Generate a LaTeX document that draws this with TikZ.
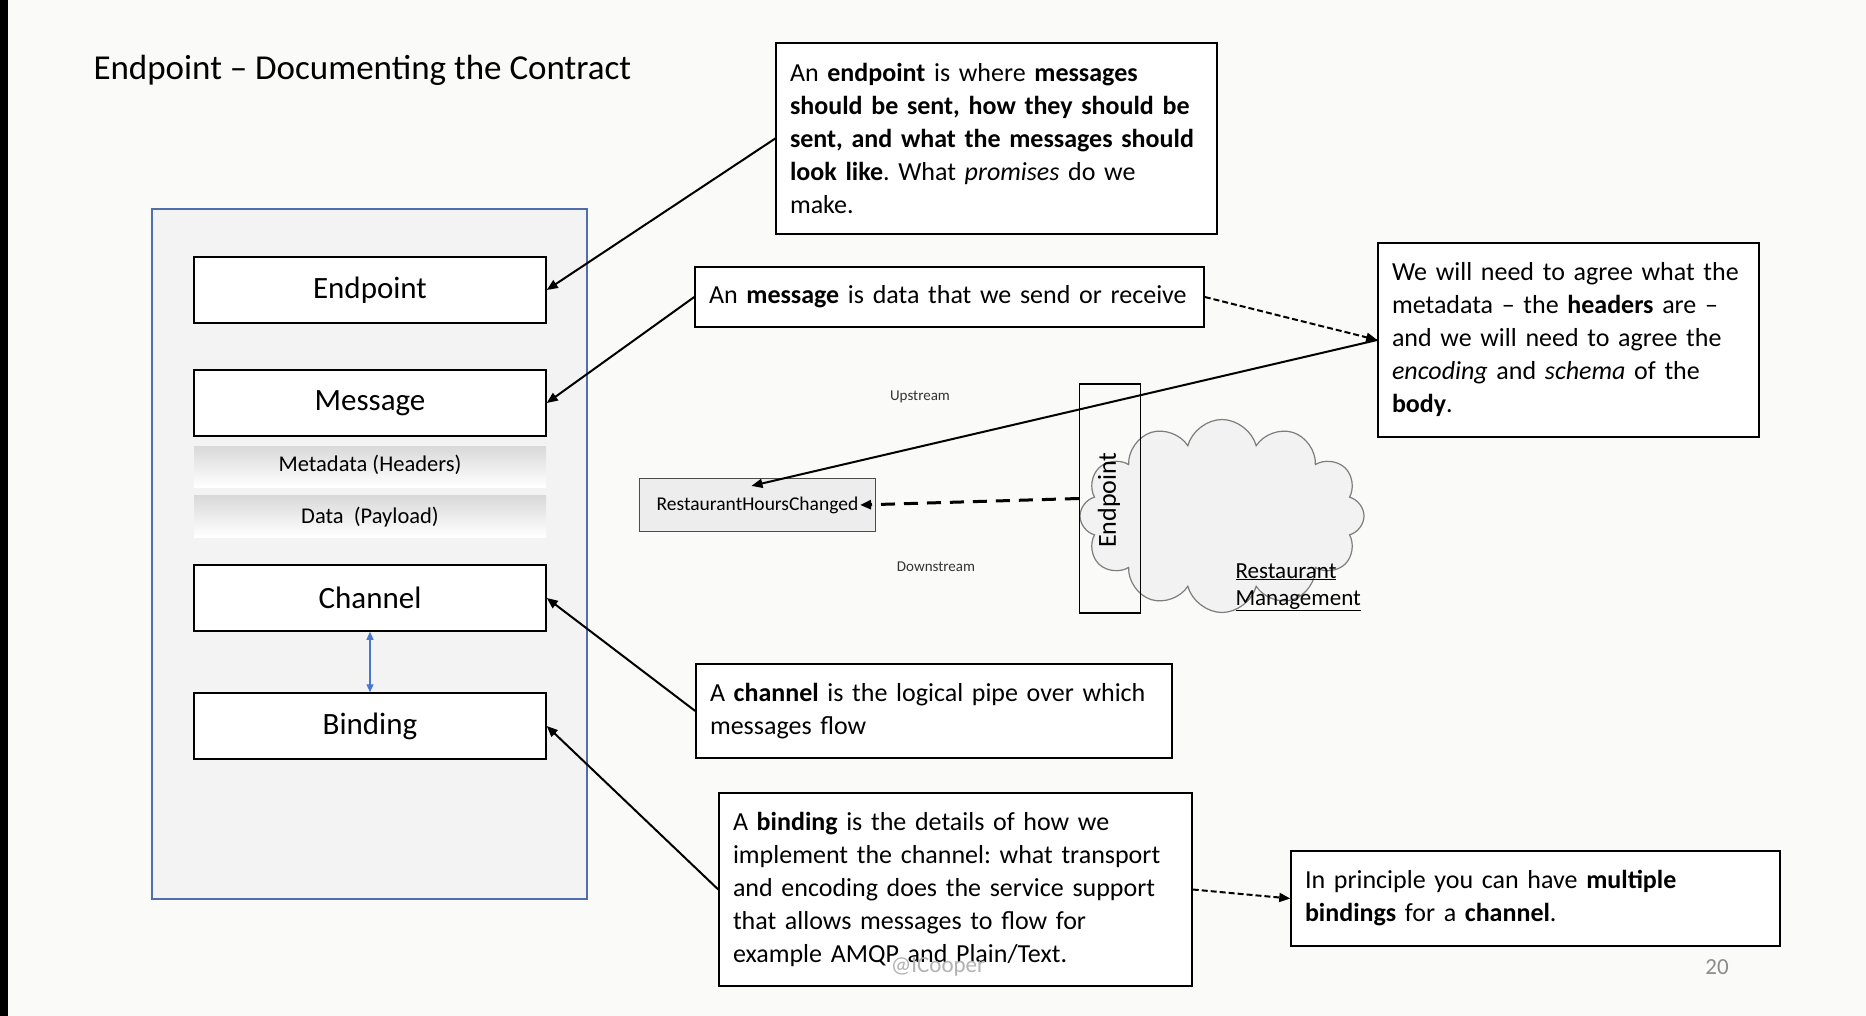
\documentclass[tikz,border=0pt]{standalone}
\usepackage{fontspec}
\setmainfont{Carlito}
\usetikzlibrary{arrows.meta,shapes.symbols}
\definecolor{slidebg}{RGB}{250,250,248}
\definecolor{panelfill}{RGB}{243,243,243}
\definecolor{paneledge}{RGB}{80,110,170}
\definecolor{linkblue}{RGB}{70,120,210}
\definecolor{cloudfill}{RGB}{242,242,242}
\definecolor{cloudedge}{RGB}{125,125,125}
\frenchspacing
\hyphenpenalty=10000

\begin{document}
\begin{tikzpicture}[x=1pt,y=-1pt,
                note/.style={draw,line width=1.5pt,fill=white,inner xsep=14pt,inner ysep=0pt,align=left,font=\fontsize{26}{33}\selectfont},
                part/.style={draw,line width=1.5pt,fill=white,minimum width=352pt,minimum height=66pt,font=\fontsize{31}{36}\selectfont},
                band/.style={font=\fontsize{22.5}{26}\selectfont},
                pointer/.style={-{Triangle[length=11pt,width=9pt]},line width=2pt},
                hint/.style={pointer,dash pattern=on 6pt off 3pt}]
                \path[use as bounding box,fill=slidebg] (0,0) rectangle (1866,1016);
                \fill[black] (0,0) rectangle (8,1016);
                \node[anchor=base west,font=\fontsize{35}{42}\selectfont] (title) at (90,80) {Endpoint -- Documenting the Contract};

                \draw[paneledge,line width=1.2pt,fill=panelfill] (152,209) rectangle (587,899);
                \node[part] (endpoint) at (370,290) {Endpoint};
                \node[part] (message) at (370,403) {Message};
                \shade[top color=black!15,bottom color=white] (194,446) rectangle (546,487);
                \shade[top color=black!15,bottom color=white] (194,495) rectangle (546,537);
                \node[band] (metadata) at (370,465) {Metadata (Headers)};
                \node[band] (payload) at (370,517) {Data\ \ (Payload)};
                \node[part] (channel) at (370,598) {Channel};
                \node[part] (binding) at (370,726) {Binding};
                \draw[linkblue,line width=1.2pt,{Triangle[length=8pt,width=7pt]}-{Triangle[length=8pt,width=7pt]}] (channel) -- (binding);

                \node[note,text width=413pt,minimum height=191pt] (endpointnote) at (996.5,138.5) {An \textbf{endpoint} is where \textbf{messages}\\\textbf{should be sent, how they should be}\\\textbf{sent, and what the messages should}\\\textbf{look like}. What \textit{promises} do we\\make.};
                \node[note,text width=481pt,minimum height=60pt] (messagenote) at (949.5,297) {An \textbf{message} is data that we send or receive};
                \node[note,text width=353pt,minimum height=194pt] (headersnote) at (1568.5,340) {We will need to agree what the\\metadata -- the \textbf{headers} are --\\and we will need to agree the\\\textit{encoding} and \textit{schema} of the\\\textbf{body}.};
                \node[note,text width=448pt,minimum height=94pt] (channelnote) at (934,711) {A \textbf{channel} is the logical pipe over which\\messages flow};
                \node[note,text width=445pt,minimum height=193pt] (bindingnote) at (955.5,889.5) {A \textbf{binding} is the details of how we\\implement the channel: what transport\\and encoding does the service support\\that allows messages to flow for\\example AMQP and Plain/Text.};
                \node[note,text width=461pt,minimum height=95pt] (multinote) at (1535.5,898.5) {In principle you can have \textbf{multiple}\\\textbf{bindings} for a \textbf{channel}.};

                \node[cloud,cloud puffs=12,aspect=1.4,draw=cloudedge,line width=1.2pt,fill=cloudfill,minimum width=284pt,minimum height=193pt,inner sep=0pt] (restaurant) at (1222,516) {};
                \node[draw,line width=1.2pt,minimum width=61pt,minimum height=229pt] (eprect) at (1110,498.5) {};
                \node[rotate=90,font=\fontsize{26}{30}\selectfont] (eplabel) at (1109,500) {Endpoint};
                \node[anchor=base west,font=\fontsize{23}{27}\selectfont] (restline) at (1232,578) {\underline{Restaurant}};
                \node[anchor=base west,font=\fontsize{23}{27}\selectfont] (mgmtline) at (1232,605) {\underline{Management}};
                \node[draw=black!70,line width=1.2pt,fill=black!7,minimum width=236pt,minimum height=53pt,font=\fontsize{19.5}{23}\selectfont] (rhc) at (757.5,505) {RestaurantHoursChanged};
                \node[text=black!80,font=\fontsize{15}{18}\selectfont] (upstream) at (920,397) {Upstream};
                \node[text=black!80,font=\fontsize{15}{18}\selectfont] (downstream) at (936,567) {Downstream};

                \draw[pointer] (endpointnote.west) -- (endpoint.east);
                \draw[pointer] (messagenote.west) -- (message.east);
                \draw[pointer] (channelnote.west) -- (channel.east);
                \draw[pointer] (bindingnote.west) -- (binding.east);
                \draw[hint] (messagenote.east) -- (headersnote.west);
                \draw[pointer] (headersnote.west) -- ([xshift=-6pt,yshift=-8pt]rhc.north);
                \draw[pointer,line width=3pt,dash pattern=on 14pt off 9pt] (eprect.west) -- ([xshift=-16pt]rhc.east);
                \draw[hint] (bindingnote.east) -- (multinote.west);

                \node[text=black!30,font=\fontsize{23}{27}\selectfont] (handle) at (938,967) {@ICooper};
                \node[text=black!45,font=\fontsize{23}{27}\selectfont] (pagenum) at (1717,967) {20};
\end{tikzpicture}
\end{document}
